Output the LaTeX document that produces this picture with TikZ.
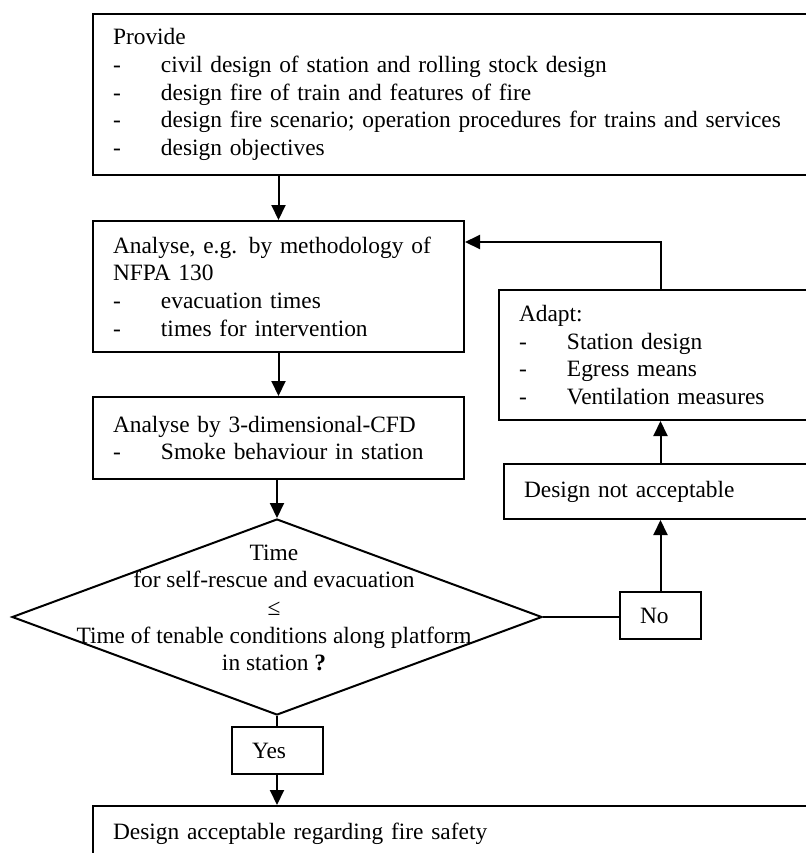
\documentclass[tikz,border=0pt]{standalone}
\usepackage{fontspec}
\setmainfont{Liberation Serif}
\usepackage{tikz}
\usetikzlibrary{arrows.meta, positioning, shapes.geometric}
\newcommand{\itm}[1]{\makebox[24pt][l]{-}#1}
\tikzset{%
	box/.style={draw, rectangle, line width=1pt, anchor=north west, inner xsep=10pt,%
		inner ysep=0pt, align=left, font=\fontsize{11.7}{13.8}\selectfont},
	answer/.style={box, minimum height=23.5pt},
	decide/.style={draw, diamond, line width=1pt, inner sep=0pt,%
		minimum width=265pt, minimum height=98pt},
	flow/.style={-{Triangle[length=7.5pt,width=7pt]}, line width=1pt},
	link/.style={line width=1pt}
}
\begin{document}
\begin{tikzpicture}[x=0.5pt, y=-0.5pt]
		\useasboundingbox (0,0) rectangle (806,853);
		\clip (0,0) rectangle (806,853);
		\node[box, text width=349pt, minimum height=80.5pt] (provide) at (92,13)
			{Provide\\\itm{civil design of station and rolling stock design}\\%
			\itm{design fire of train and features of fire}\\%
			\itm{design fire scenario; operation procedures for trains and services}\\%
			\itm{design objectives}};
		\node[box, text width=165.5pt, minimum height=65.5pt] (analyse) at (92,220)
			{\makebox[165.5pt][s]{Analyse, e.g. by methodology of}\\NFPA 130\\%
			\itm{evacuation times}\\\itm{times for intervention}};
		\node[box, text width=165.5pt, minimum height=41pt] (cfd) at (92,396)
			{Analyse by 3-dimensional-CFD\\\itm{Smoke behaviour in station}};
		\node[decide] (check) at (277,617) {};
		\node[align=center, inner sep=0pt, font=\fontsize{11.7}{13.8}\selectfont] (checktext) at (274,608)
			{Time\\for self-rescue and evacuation\\≤\\Time of tenable conditions along platform\\in station {\bfseries ?}};
		\node[answer, text width=25.5pt] (yes) at (231,726) {Yes};
		\node[answer, text width=20.5pt] (no) at (619,591) {No};
		\node[box, text width=143.5pt, minimum height=27.5pt] (notok) at (503,463) {Design not acceptable};
		\node[box, text width=146pt, minimum height=65pt] (adapt) at (498,289)
			{Adapt:\\\itm{Station design}\\\itm{Egress means}\\\itm{Ventilation measures}};
		\node[box, text width=349pt, minimum height=27.5pt] (accept) at (92,805)
			{Design acceptable regarding fire safety};
		% main line
		\draw[flow] (provide.south -| analyse.north) -- (analyse.north);
		\draw[flow] (analyse) -- (cfd);
		\draw[flow] (cfd.south -| check.north) -- (check.north);
		\draw[link] (check.south) -- (check.south |- yes.north);
		\draw[flow] (check.south |- yes.south) -- (check.south |- accept.north);
		% loop back
		\draw[link] (check.east) -- (check.east -| no.west);
		\draw[flow] (no.north) -- (no.north |- notok.south);
		\draw[flow] (no.north |- notok.north) -- (no.north |- adapt.south);
		\draw[flow] (no.north |- adapt.north) |- ([yshift=-11pt]analyse.north east);
	\end{tikzpicture}
\end{document}
